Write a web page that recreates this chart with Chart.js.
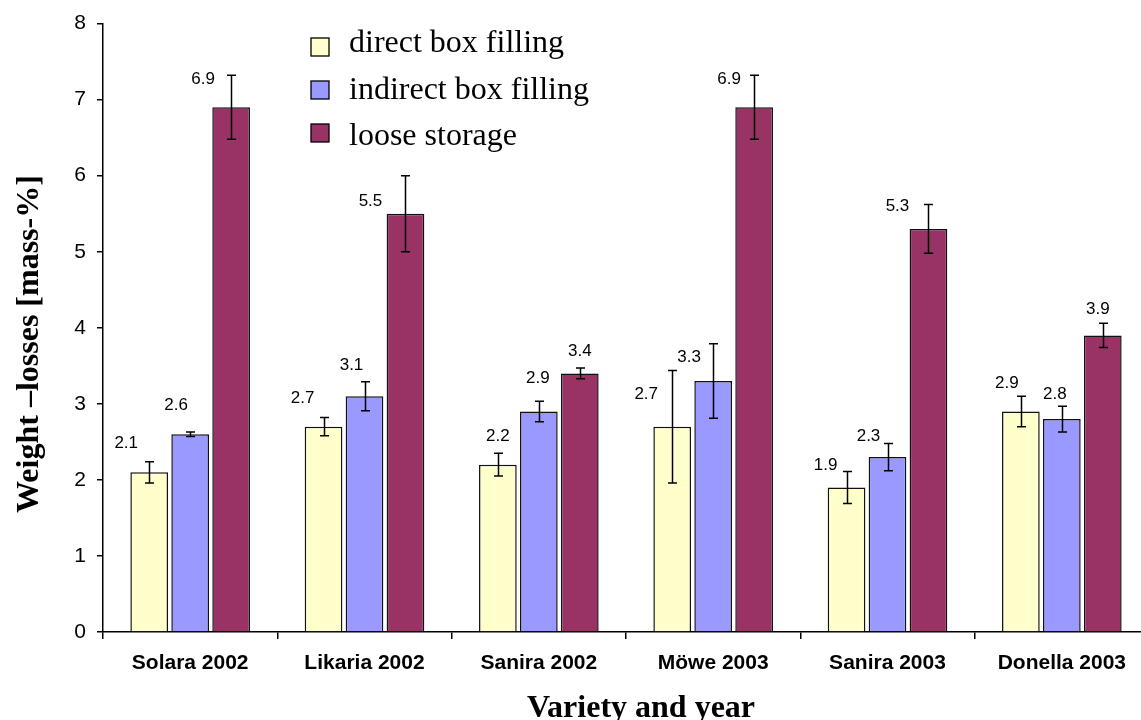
<!DOCTYPE html>
<html>
<head>
<meta charset="utf-8">
<script src="https://cdn.jsdelivr.net/npm/chart.js@4.4.1/dist/chart.umd.min.js"></script>
<style>
  html, body { margin: 0; padding: 0; background: #fff; overflow: hidden; }
  #wrap { position: relative; width: 1150px; height: 720px; }
</style>
</head>
<body>
<div id="wrap"><canvas id="chart"></canvas></div>
<script>
// Weight losses by variety/year and storage method
const categories = ['Solara 2002', 'Likaria 2002', 'Sanira 2002', 'Möwe 2003', 'Sanira 2003', 'Donella 2003'];
const seriesNames = ['direct box filling', 'indirect box filling', 'loose storage'];
const directBox = [2.1, 2.7, 2.2, 2.7, 1.9, 2.9];
const indirectBox = [2.6, 3.1, 2.9, 3.3, 2.3, 2.8];
const looseStorage = [6.9, 5.5, 3.4, 6.9, 5.3, 3.9];
// standard deviations shown as error bars
const directErr = [0.14, 0.12, 0.15, 0.74, 0.21, 0.20];
const indirectErr = [0.03, 0.19, 0.135, 0.49, 0.18, 0.17];
const looseErr = [0.42, 0.50, 0.07, 0.42, 0.32, 0.16];
const yTickValues = [0, 1, 2, 3, 4, 5, 6, 7, 8];

const colors = ['#FFFFCC', '#9999FF', '#993366'];
const SANS = '"Liberation Sans", Arial, sans-serif';
const SERIF = '"Liberation Serif", "Times New Roman", serif';

// label nudges relative to bar centre / bar top, per series and category
const labelNudge = [
  [[-23, -29], [-21, -28], [0, -28], [-26, -32], [-21, -22], [-14, -28]],
  [[-14, -29], [-13, -31], [-1, -33], [-24, -24], [-19, -21], [-7, -25]],
  [[-28, -28], [-35, -12], [0, -22], [-25, -28], [-31, -23], [-5, -26]]
];

const errorBars = {
  id: 'errorBars',
  afterDatasetsDraw(chart) {
    const ctx = chart.ctx;
    const y = chart.scales.y;
    ctx.save();
    ctx.strokeStyle = '#000';
    ctx.lineWidth = 1.5;
    chart.data.datasets.forEach((ds, di) => {
      const meta = chart.getDatasetMeta(di);
      meta.data.forEach((bar, i) => {
        const v = ds.data[i], e = ds.errors[i];
        const top = y.getPixelForValue(v + e);
        const bot = y.getPixelForValue(v - e);
        const x = Math.round(bar.x) + 0.5;
        ctx.beginPath();
        ctx.moveTo(x, top); ctx.lineTo(x, bot);
        ctx.moveTo(x - 4.5, top); ctx.lineTo(x + 4.5, top);
        ctx.moveTo(x - 4.5, bot); ctx.lineTo(x + 4.5, bot);
        ctx.stroke();
      });
    });
    ctx.restore();
  }
};

const valueLabels = {
  id: 'valueLabels',
  afterDatasetsDraw(chart) {
    const ctx = chart.ctx;
    ctx.save();
    ctx.font = '17px ' + SANS;
    ctx.fillStyle = '#000';
    ctx.textAlign = 'center';
    ctx.textBaseline = 'middle';
    chart.data.datasets.forEach((ds, di) => {
      const meta = chart.getDatasetMeta(di);
      meta.data.forEach((bar, i) => {
        const n = labelNudge[di][i];
        ctx.fillText(ds.data[i].toFixed(1), bar.x + n[0], bar.y + n[1]);
      });
    });
    ctx.restore();
  }
};

const legendBox = {
  id: 'legendBox',
  afterDraw(chart) {
    const ctx = chart.ctx;
    const boxCenters = [47, 90, 133];
    const baselines = [52, 99, 145];
    ctx.save();
    chart.data.datasets.forEach((ds, i) => {
      ctx.fillStyle = ds.backgroundColor;
      ctx.fillRect(311, boxCenters[i] - 9, 18, 18);
      ctx.strokeStyle = '#000';
      ctx.lineWidth = 1.3;
      ctx.strokeRect(311, boxCenters[i] - 9, 18, 18);
      ctx.fillStyle = '#000';
      ctx.font = '32px ' + SERIF;
      ctx.textAlign = 'left';
      ctx.textBaseline = 'alphabetic';
      ctx.fillText(ds.label, 349, baselines[i]);
    });
    ctx.restore();
  }
};

const axisTitles = {
  id: 'axisTitles',
  afterDraw(chart) {
    const ctx = chart.ctx;
    ctx.save();
    ctx.fillStyle = '#000';
    ctx.font = 'bold 32px ' + SERIF;
    ctx.textAlign = 'center';
    ctx.textBaseline = 'alphabetic';
    ctx.fillText('Variety and year', 641, 717);
    ctx.translate(38, 344);
    ctx.rotate(-Math.PI / 2);
    ctx.fillText('Weight \u2013losses [mass-%]', 0, 0);
    ctx.restore();
  }
};

new Chart(document.getElementById('chart'), {
  type: 'bar',
  data: {
    labels: categories,
    datasets: [
      { label: seriesNames[0], data: directBox, errors: directErr, backgroundColor: colors[0] },
      { label: seriesNames[1], data: indirectBox, errors: indirectErr, backgroundColor: colors[1] },
      { label: seriesNames[2], data: looseStorage, errors: looseErr, backgroundColor: colors[2] }
    ].map(d => Object.assign(d, {
      borderColor: '#111',
      borderWidth: 1.5,
      categoryPercentage: 0.705,
      barPercentage: 0.92
    }))
  },
  options: {
    responsive: true,
    maintainAspectRatio: false,
    animation: false,
    layout: { padding: { top: 21, right: 1, left: 0, bottom: 0 } },
    plugins: {
      legend: { display: false },
      tooltip: { enabled: false }
    },
    scales: {
      x: {
        type: 'category',
        grid: { display: true, drawOnChartArea: false, offset: true, tickLength: 7, color: '#000', lineWidth: 1.5 },
        border: { color: '#000', width: 1.5 },
        ticks: { color: '#000', font: { family: SANS, size: 21, weight: 'bold' }, padding: 12, maxRotation: 0, autoSkip: false },
        afterFit: s => { s.height = 88; }
      },
      y: {
        min: 0,
        max: 8,
        afterBuildTicks: s => { s.ticks = yTickValues.map(v => ({ value: v })); },
        grid: { display: true, drawOnChartArea: false, tickLength: 6, color: '#000', lineWidth: 1.5 },
        border: { color: '#000', width: 1.5 },
        ticks: { color: '#000', font: { family: SANS, size: 21 }, padding: 11 },
        afterFit: s => { s.width = 103; }
      }
    }
  },
  plugins: [errorBars, valueLabels, legendBox, axisTitles]
});
</script>
</body>
</html>
